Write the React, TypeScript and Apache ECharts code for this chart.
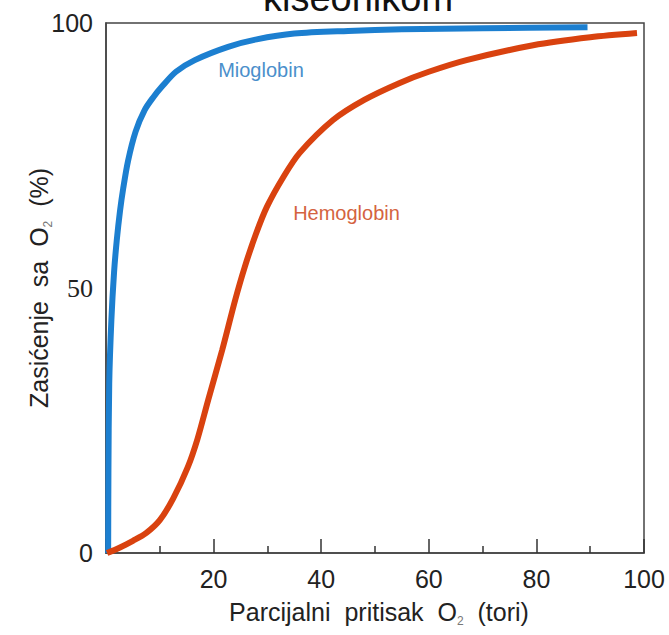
import React, { useEffect, useRef } from "react";
import * as echarts from "echarts";

// Partial pressure of O2 (torr) vs. saturation (%)
const myoglobinData: [number, number][] = [
  [0.4, 0], [0.45, 15], [0.6, 32], [1, 44], [1.5, 53], [2, 59], [2.6, 64.5],
  [3.2, 68.8], [4.1, 74], [5.5, 79.5], [7.2, 83.6], [8.8, 86], [10.4, 88],
  [13, 90.8], [16.5, 93], [22.7, 95.5], [28, 96.9], [35, 98], [45, 98.5],
  [55, 98.8], [70, 99], [89.5, 99.2],
];
const hemoglobinData: [number, number][] = [
  [0.2, 0], [2.5, 1], [5, 2.3], [7.5, 3.8], [10, 6.2], [12.5, 10.3], [15.2, 16.2],
  [17, 21.5], [19, 28.9], [21.6, 38.3], [24, 47.7], [25.8, 54], [27.8, 60],
  [29.9, 65.3], [33, 71], [36, 75.5], [42.2, 81.7], [48, 85.5], [54.6, 88.7],
  [60, 90.8], [67, 93], [79.4, 95.8], [90, 97.3], [98.7, 98.1],
];
const seriesNames = ["Mioglobin", "Hemoglobin"];
const seriesLabelCoords: [number, number][] = [
  [28.8, 91.2],
  [44.7, 64.2],
];
const xLabelValues = [20, 40, 60, 80, 100];
const yLabelValues = [0, 50, 100];
const titleTail = "kiseonikom";
const xAxisTitle = "{n|Parcijalni  pritisak  O}{s|2}{n|  (tori)}";
const yAxisTitle = "{n|Zasićenje  sa  O}{s|2}{n|  (%)}";

const SANS = '"Liberation Sans", Arial, sans-serif';
const SERIF = '"Liberation Serif", "Times New Roman", serif';

export default function App() {
  const ref = useRef<HTMLDivElement>(null);

  useEffect(() => {
    document.body.style.margin = "0";
    if (!ref.current) return;
    const chart = echarts.init(ref.current, null, { renderer: "svg" });

    const titleRich = {
      n: { fontFamily: SANS, fontSize: 25, color: "#222", lineHeight: 30, verticalAlign: "middle" },
      s: { fontFamily: SANS, fontSize: 12, color: "#777", lineHeight: 14, verticalAlign: "bottom" },
    };

    chart.setOption({
      animation: false,
      backgroundColor: "#ffffff",
      textStyle: { fontFamily: SANS },
      graphic: [
        {
          type: "text",
          x: 358,
          y: 17,
          style: {
            text: titleTail,
            fontFamily: SANS,
            fontSize: 38,
            fill: "#111",
            align: "center",
            verticalAlign: "bottom",
          },
        },
      ],
      grid: {
        left: 106,
        top: 23,
        width: 538,
        height: 530,
        show: true,
        borderColor: "#444",
        borderWidth: 1.5,
        backgroundColor: "transparent",
      },
      xAxis: {
        type: "value",
        min: 0,
        max: 100,
        interval: 20,
        name: xAxisTitle,
        nameLocation: "middle",
        nameGap: 44,
        nameTextStyle: { rich: titleRich, padding: [0, 0, 0, 8] },
        axisLine: { show: true, lineStyle: { color: "#444", width: 1.5 } },
        axisTick: { show: true, inside: true, length: 14, lineStyle: { color: "#333", width: 1.5 } },
        minorTick: { show: true, splitNumber: 2, length: 7, lineStyle: { color: "#333", width: 1.5 } },
        splitLine: { show: false },
        minorSplitLine: { show: false },
        axisLabel: {
          margin: 13,
          fontSize: 25,
          color: "#222",
          fontFamily: SANS,
          formatter: (v: number) => (xLabelValues.includes(v) ? String(v) : ""),
        },
      },
      yAxis: {
        type: "value",
        min: 0,
        max: 100,
        interval: 50,
        name: yAxisTitle,
        nameLocation: "middle",
        nameGap: 52,
        nameMoveOverlap: false,
        nameTextStyle: { rich: titleRich },
        axisLine: { show: true, lineStyle: { color: "#444", width: 1.5 } },
        axisTick: { show: false },
        splitLine: { show: false },
        axisLabel: {
          margin: 13,
          fontSize: 25,
          color: "#222",
          fontFamily: SANS,
          formatter: (v: number) =>
            yLabelValues.includes(v) ? (v === 50 ? `{serif|${v}}` : String(v)) : "",
          rich: {
            serif: { fontFamily: SERIF, fontSize: 26, color: "#222" },
          },
        },
      },
      series: [
        {
          name: seriesNames[0],
          type: "line",
          data: myoglobinData,
          smooth: 0.3,
          showSymbol: false,
          lineStyle: { color: "#1c7fd0", width: 6 },
          markPoint: {
            silent: true,
            symbol: "circle",
            symbolSize: 0,
            label: {
              show: true,
              position: "inside",
              formatter: seriesNames[0],
              color: "#4a8fcb",
              fontSize: 20,
              fontFamily: SANS,
            },
            data: [{ coord: seriesLabelCoords[0] }],
          },
        },
        {
          name: seriesNames[1],
          type: "line",
          data: hemoglobinData,
          smooth: 0.3,
          showSymbol: false,
          lineStyle: { color: "#d9420f", width: 6 },
          markPoint: {
            silent: true,
            symbol: "circle",
            symbolSize: 0,
            label: {
              show: true,
              position: "inside",
              formatter: seriesNames[1],
              color: "#d4633f",
              fontSize: 20,
              fontFamily: SANS,
            },
            data: [{ coord: seriesLabelCoords[1] }],
          },
        },
      ],
    });

    return () => chart.dispose();
  }, []);

  return <div ref={ref} style={{ width: 669, height: 635 }} />;
}
